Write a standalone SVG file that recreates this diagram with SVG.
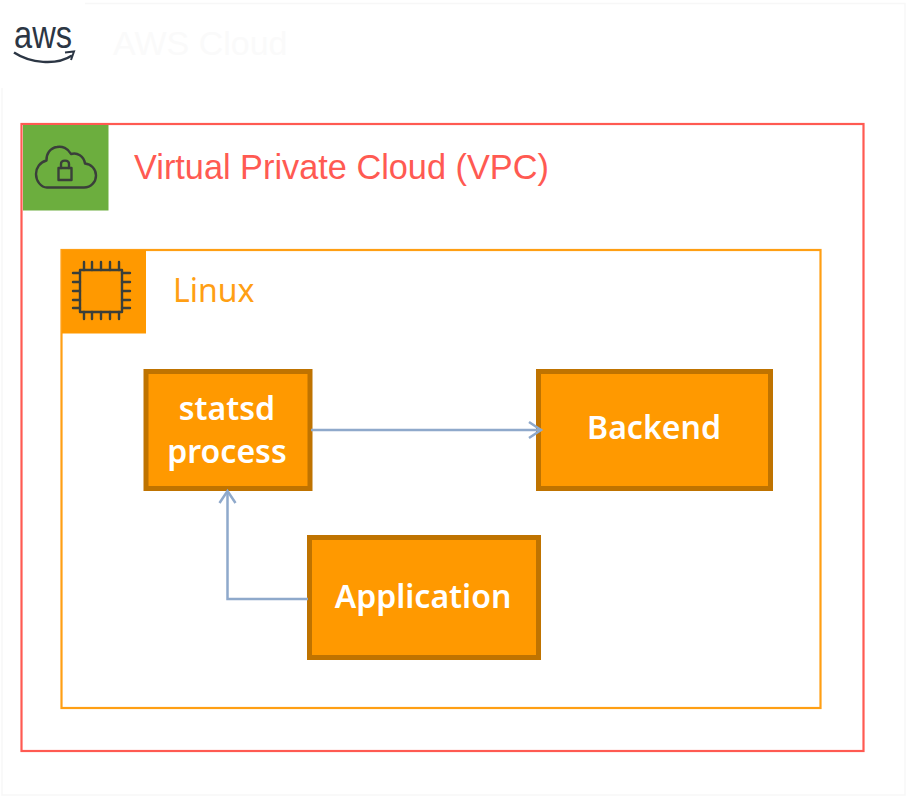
<svg xmlns="http://www.w3.org/2000/svg" width="908" height="800" viewBox="0 0 908 800">
<style>
.node{fill:#ff9900;stroke:#bf7300;stroke-width:5}
.nl{font-family:"Noto Sans","Open Sans",sans-serif;font-size:32px;font-weight:600;fill:#ffffff;text-anchor:middle}
.conn{fill:none;stroke:#8fa9cb;stroke-width:2.5}
.icon{fill:none;stroke:#3a3f3a;stroke-width:2.4;stroke-linejoin:round;stroke-linecap:round}
</style>
<defs>
<marker id="arrow" markerUnits="userSpaceOnUse" markerWidth="20" markerHeight="20" refX="15" refY="10" orient="auto">
<path d="M3 2L15 10L3 18" fill="none" stroke="#8fa9cb" stroke-width="2.5"/>
</marker>
</defs>
<rect width="908" height="800" fill="#ffffff"/>
<g id="aws-cloud">
<path d="M85 3.500H905V795H2V88" fill="none" stroke="#f7f7f7" stroke-width="1.500"/>
<text x="113" y="55" font-family="'Liberation Sans',Arial,sans-serif" font-size="34" fill="#fafafa">AWS Cloud</text>
<text x="14" y="48" font-family="'Liberation Sans',Arial,sans-serif" font-size="38" textLength="58" lengthAdjust="spacingAndGlyphs" fill="#2c3644">aws</text>
<path d="M14 52.500C30 63 56 66 72 55.500" fill="none" stroke="#2c3644" stroke-width="2.500"/>
<path d="M65 52.500L74 51.500L71 60" fill="none" stroke="#2c3644" stroke-width="2"/>
</g>
<g id="vpc">
<rect x="21.500" y="124" width="842" height="627" fill="#ffffff" stroke="#ff5a52" stroke-width="2.200"/>
<rect x="23" y="125" width="85.500" height="85.500" fill="#6cae3e"/>
<path class="icon" d="M47 187.500H84C91 187.500 96 182 96 175.500C96 169 91 164 85 163.500C84 156 77 152 71 154C68 148 62 146 57 147C50 148 46 154 46.500 160.500C40 162 36 168 36 174C36 181 41 187.500 47 187.500Z"/>
<rect class="icon" x="58.500" y="168" width="13" height="12"/>
<path class="icon" d="M61 168V164C61 159.500 69 159.500 69 164V168"/>
<text x="134" y="179" font-family="'Liberation Sans',Arial,sans-serif" font-size="34.300" fill="#ff5a52">Virtual Private Cloud (VPC)</text>
</g>
<g id="linux">
<rect x="61.500" y="250" width="759" height="458" fill="#ffffff" stroke="#ff9f14" stroke-width="2.200"/>
<rect x="62" y="250" width="84" height="83.500" fill="#ff9900"/>
<rect class="icon" x="80" y="270" width="42" height="42" stroke-width="2.600"/>
<path class="icon" d="M84 262V270M92 262V270M101 262V270M110 262V270M119 262V270M84 312V319M92 312V319M101 312V319M110 312V319M119 312V319M73 273H80M73 282H80M73 291H80M73 300H80M73 308H80M122 273H130M122 282H130M122 291H130M122 300H130M122 308H130"/>
<text x="173" y="302" font-family="'Noto Sans','Open Sans',sans-serif" font-size="32" fill="#ff9f14">Linux</text>
</g>
<g id="statsd">
<rect class="node" x="146" y="371.500" width="164" height="117"/>
<text class="nl" x="227" y="420">statsd</text>
<text class="nl" x="227" y="463">process</text>
</g>
<g id="backend">
<rect class="node" x="538.500" y="371.500" width="232" height="117"/>
<text class="nl" x="654" y="439">Backend</text>
</g>
<g id="application">
<rect class="node" x="309.500" y="537.500" width="229" height="120"/>
<text class="nl" x="423" y="608">Application</text>
</g>
<g id="connectors">
<path class="conn" d="M311 430H541" marker-end="url(#arrow)"/>
<path class="conn" d="M308 599H227.500V491" marker-end="url(#arrow)"/>
</g>
</svg>
